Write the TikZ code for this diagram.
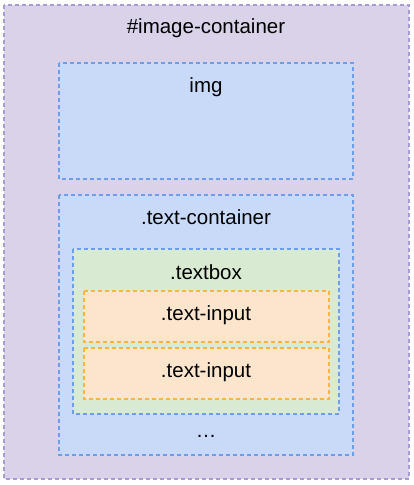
\documentclass[tikz,border=0pt]{standalone}
\usepackage{fontspec}
\setmainfont{Liberation Sans}
\definecolor{purplefill}{HTML}{D9D2E9}
\definecolor{purpleline}{HTML}{A99BD3}
\definecolor{bluefill}{HTML}{C9DAF8}
\definecolor{blueline}{HTML}{6D9EEB}
\definecolor{greenfill}{HTML}{D9EAD3}
\definecolor{orangefill}{HTML}{FCE5CD}
\definecolor{orangeline}{HTML}{FFB340}
\tikzset{
  box/.style={line width=1.3pt, dash pattern=on 4pt off 3pt},
  outerbox/.style={box, fill=purplefill, draw=purpleline},
  bluebox/.style={box, fill=bluefill, draw=blueline},
  greenbox/.style={box, fill=greenfill, draw=blueline},
  inputbox/.style={box, fill=orangefill, draw=orangeline},
  lbl/.style={font=\fontsize{20.5}{24}\selectfont, inner sep=0pt}
}
\begin{document}
\begin{tikzpicture}[x=1pt,y=-1pt]
\useasboundingbox (0,0) rectangle (413,485);
% outer container
\draw[outerbox] (4,5) rectangle (409,479);
\node[lbl] (container) at (206,28) {\#image-container};

% img
\draw[bluebox] (59,63) rectangle (353,179);
\node[lbl] (img) at (206,87) {img};

% text container
\draw[bluebox] (59,195) rectangle (353,455);
\node[lbl] (textcontainer) at (206,217) {.text-container};

% textbox
\draw[greenbox] (73,249) rectangle (339,414);
\node[lbl] (textbox) at (206,272) {.textbox};

% inputs
\draw[inputbox] (84,291) rectangle (329,342);
\node[lbl] (inputA) at (206,315) {.text-input};
\draw[inputbox] (84,348) rectangle (329,399);
\node[lbl] (inputB) at (206,372) {.text-input};

\node[lbl] (dots) at (206,436) {\dots};
\end{tikzpicture}
\end{document}
